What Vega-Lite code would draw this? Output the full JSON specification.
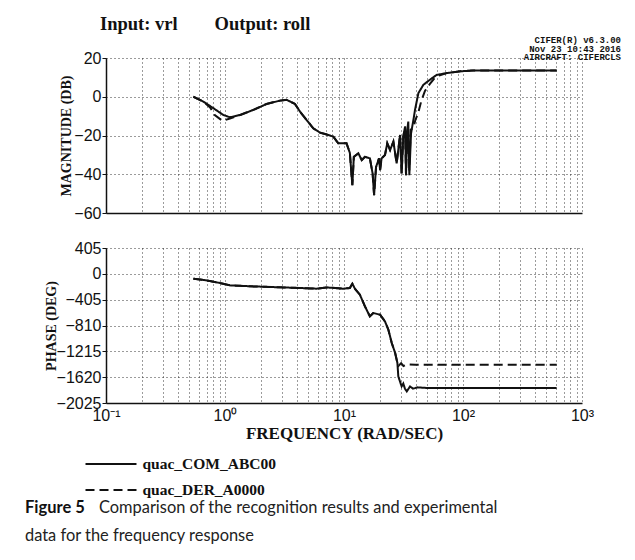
{
  "$schema": "https://vega.github.io/schema/vega-lite/v6.json",
  "background": "white",
  "padding": {"left": 25, "top": 14, "right": 5, "bottom": 5},
  "title": {
    "text": "Input: vrl\u00a0\u00a0\u00a0\u00a0\u00a0\u00a0\u00a0\u00a0Output: roll",
    "anchor": "start",
    "frame": "group",
    "font": "Liberation Serif",
    "fontWeight": "bold",
    "fontSize": 18.5,
    "color": "#111",
    "dx": -6,
    "offset": 3
  },
  "datasets": {
    "mag": [
      {"f": 0.542, "v": 0, "s": "quac_COM_ABC00"},
      {"f": 0.658, "v": -2.5, "s": "quac_COM_ABC00"},
      {"f": 0.798, "v": -5.9, "s": "quac_COM_ABC00"},
      {"f": 0.968, "v": -9.4, "s": "quac_COM_ABC00"},
      {"f": 1.10, "v": -10.6, "s": "quac_COM_ABC00"},
      {"f": 1.34, "v": -9.4, "s": "quac_COM_ABC00"},
      {"f": 1.73, "v": -6.8, "s": "quac_COM_ABC00"},
      {"f": 2.24, "v": -3.7, "s": "quac_COM_ABC00"},
      {"f": 2.90, "v": -2.0, "s": "quac_COM_ABC00"},
      {"f": 3.30, "v": -1.6, "s": "quac_COM_ABC00"},
      {"f": 3.87, "v": -3.7, "s": "quac_COM_ABC00"},
      {"f": 4.27, "v": -7.7, "s": "quac_COM_ABC00"},
      {"f": 4.85, "v": -12, "s": "quac_COM_ABC00"},
      {"f": 5.52, "v": -16.3, "s": "quac_COM_ABC00"},
      {"f": 6.28, "v": -18.5, "s": "quac_COM_ABC00"},
      {"f": 7.38, "v": -19.7, "s": "quac_COM_ABC00"},
      {"f": 8.13, "v": -20.6, "s": "quac_COM_ABC00"},
      {"f": 8.95, "v": -24, "s": "quac_COM_ABC00"},
      {"f": 10.5, "v": -24, "s": "quac_COM_ABC00"},
      {"f": 11.2, "v": -29, "s": "quac_COM_ABC00"},
      {"f": 11.75, "v": -45.6, "s": "quac_COM_ABC00"},
      {"f": 12.1, "v": -31, "s": "quac_COM_ABC00"},
      {"f": 13.2, "v": -29.2, "s": "quac_COM_ABC00"},
      {"f": 14.1, "v": -32.7, "s": "quac_COM_ABC00"},
      {"f": 15.0, "v": -31, "s": "quac_COM_ABC00"},
      {"f": 16.5, "v": -31.8, "s": "quac_COM_ABC00"},
      {"f": 17.4, "v": -39.6, "s": "quac_COM_ABC00"},
      {"f": 17.9, "v": -50.8, "s": "quac_COM_ABC00"},
      {"f": 18.6, "v": -36.2, "s": "quac_COM_ABC00"},
      {"f": 19.7, "v": -31.8, "s": "quac_COM_ABC00"},
      {"f": 20.1, "v": -37.9, "s": "quac_COM_ABC00"},
      {"f": 20.7, "v": -31.8, "s": "quac_COM_ABC00"},
      {"f": 22.1, "v": -30.1, "s": "quac_COM_ABC00"},
      {"f": 23.1, "v": -24, "s": "quac_COM_ABC00"},
      {"f": 24.4, "v": -27.5, "s": "quac_COM_ABC00"},
      {"f": 26.0, "v": -23.2, "s": "quac_COM_ABC00"},
      {"f": 26.9, "v": -29.2, "s": "quac_COM_ABC00"},
      {"f": 27.7, "v": -34.4, "s": "quac_COM_ABC00"},
      {"f": 29.6, "v": -19.7, "s": "quac_COM_ABC00"},
      {"f": 30.5, "v": -39.6, "s": "quac_COM_ABC00"},
      {"f": 31.5, "v": -20.6, "s": "quac_COM_ABC00"},
      {"f": 32.6, "v": -15.4, "s": "quac_COM_ABC00"},
      {"f": 33.2, "v": -40.5, "s": "quac_COM_ABC00"},
      {"f": 34.0, "v": -17.2, "s": "quac_COM_ABC00"},
      {"f": 34.7, "v": -12.8, "s": "quac_COM_ABC00"},
      {"f": 35.4, "v": -40.5, "s": "quac_COM_ABC00"},
      {"f": 36.6, "v": -18.9, "s": "quac_COM_ABC00"},
      {"f": 38.3, "v": -12, "s": "quac_COM_ABC00"},
      {"f": 39.5, "v": -6.8, "s": "quac_COM_ABC00"},
      {"f": 42.2, "v": 1.9, "s": "quac_COM_ABC00"},
      {"f": 46.5, "v": 6.2, "s": "quac_COM_ABC00"},
      {"f": 52.8, "v": 8.8, "s": "quac_COM_ABC00"},
      {"f": 60.1, "v": 11.3, "s": "quac_COM_ABC00"},
      {"f": 72.9, "v": 12.2, "s": "quac_COM_ABC00"},
      {"f": 94.4, "v": 13.1, "s": "quac_COM_ABC00"},
      {"f": 122, "v": 13.6, "s": "quac_COM_ABC00"},
      {"f": 251, "v": 13.6, "s": "quac_COM_ABC00"},
      {"f": 612, "v": 13.6, "s": "quac_COM_ABC00"},
      {"f": 0.542, "v": 0, "s": "quac_DER_A0000"},
      {"f": 0.658, "v": -2.5, "s": "quac_DER_A0000"},
      {"f": 0.75, "v": -5.5, "s": "quac_DER_A0000"},
      {"f": 0.82, "v": -9.4, "s": "quac_DER_A0000"},
      {"f": 0.955, "v": -12.5, "s": "quac_DER_A0000"},
      {"f": 1.10, "v": -11.2, "s": "quac_DER_A0000"},
      {"f": 1.34, "v": -9.4, "s": "quac_DER_A0000"},
      {"f": 1.73, "v": -6.8, "s": "quac_DER_A0000"},
      {"f": 2.24, "v": -3.7, "s": "quac_DER_A0000"},
      {"f": 2.90, "v": -2.0, "s": "quac_DER_A0000"},
      {"f": 3.30, "v": -1.6, "s": "quac_DER_A0000"},
      {"f": 3.87, "v": -3.7, "s": "quac_DER_A0000"},
      {"f": 4.27, "v": -7.7, "s": "quac_DER_A0000"},
      {"f": 4.85, "v": -12, "s": "quac_DER_A0000"},
      {"f": 5.52, "v": -16.3, "s": "quac_DER_A0000"},
      {"f": 6.28, "v": -18.5, "s": "quac_DER_A0000"},
      {"f": 7.38, "v": -19.7, "s": "quac_DER_A0000"},
      {"f": 8.13, "v": -20.6, "s": "quac_DER_A0000"},
      {"f": 8.95, "v": -24, "s": "quac_DER_A0000"},
      {"f": 10.5, "v": -24, "s": "quac_DER_A0000"},
      {"f": 11.2, "v": -29, "s": "quac_DER_A0000"},
      {"f": 11.75, "v": -45.6, "s": "quac_DER_A0000"},
      {"f": 12.1, "v": -31, "s": "quac_DER_A0000"},
      {"f": 13.2, "v": -29.2, "s": "quac_DER_A0000"},
      {"f": 14.1, "v": -32.7, "s": "quac_DER_A0000"},
      {"f": 15.0, "v": -31, "s": "quac_DER_A0000"},
      {"f": 16.5, "v": -31.8, "s": "quac_DER_A0000"},
      {"f": 17.4, "v": -39.6, "s": "quac_DER_A0000"},
      {"f": 17.9, "v": -50.8, "s": "quac_DER_A0000"},
      {"f": 18.6, "v": -36.2, "s": "quac_DER_A0000"},
      {"f": 19.7, "v": -31.8, "s": "quac_DER_A0000"},
      {"f": 20.1, "v": -37.9, "s": "quac_DER_A0000"},
      {"f": 20.7, "v": -31.8, "s": "quac_DER_A0000"},
      {"f": 22.1, "v": -30.1, "s": "quac_DER_A0000"},
      {"f": 23.1, "v": -24, "s": "quac_DER_A0000"},
      {"f": 24.4, "v": -27.5, "s": "quac_DER_A0000"},
      {"f": 26.0, "v": -23.2, "s": "quac_DER_A0000"},
      {"f": 26.9, "v": -29.2, "s": "quac_DER_A0000"},
      {"f": 27.7, "v": -34.4, "s": "quac_DER_A0000"},
      {"f": 29.6, "v": -19.7, "s": "quac_DER_A0000"},
      {"f": 30.5, "v": -39.6, "s": "quac_DER_A0000"},
      {"f": 31.5, "v": -20.6, "s": "quac_DER_A0000"},
      {"f": 32.6, "v": -15.4, "s": "quac_DER_A0000"},
      {"f": 33.2, "v": -40.5, "s": "quac_DER_A0000"},
      {"f": 34.0, "v": -17.2, "s": "quac_DER_A0000"},
      {"f": 34.7, "v": -20, "s": "quac_DER_A0000"},
      {"f": 35.4, "v": -38, "s": "quac_DER_A0000"},
      {"f": 36.3, "v": -17, "s": "quac_DER_A0000"},
      {"f": 38.3, "v": -16, "s": "quac_DER_A0000"},
      {"f": 39.8, "v": -12, "s": "quac_DER_A0000"},
      {"f": 42.2, "v": -8, "s": "quac_DER_A0000"},
      {"f": 44.7, "v": -2, "s": "quac_DER_A0000"},
      {"f": 47.9, "v": 3, "s": "quac_DER_A0000"},
      {"f": 52.5, "v": 6.5, "s": "quac_DER_A0000"},
      {"f": 57.5, "v": 9.5, "s": "quac_DER_A0000"},
      {"f": 63, "v": 11, "s": "quac_DER_A0000"},
      {"f": 72.9, "v": 12.2, "s": "quac_DER_A0000"},
      {"f": 94.4, "v": 13.1, "s": "quac_DER_A0000"},
      {"f": 122, "v": 13.6, "s": "quac_DER_A0000"},
      {"f": 251, "v": 13.6, "s": "quac_DER_A0000"},
      {"f": 612, "v": 13.6, "s": "quac_DER_A0000"}
    ],
    "phase": [
      {"f": 0.542, "v": -76, "s": "quac_COM_ABC00"},
      {"f": 0.70, "v": -103, "s": "quac_COM_ABC00"},
      {"f": 0.908, "v": -144, "s": "quac_COM_ABC00"},
      {"f": 1.10, "v": -181, "s": "quac_COM_ABC00"},
      {"f": 1.73, "v": -197, "s": "quac_COM_ABC00"},
      {"f": 3.09, "v": -213, "s": "quac_COM_ABC00"},
      {"f": 4.27, "v": -222, "s": "quac_COM_ABC00"},
      {"f": 5.89, "v": -233, "s": "quac_COM_ABC00"},
      {"f": 7.16, "v": -213, "s": "quac_COM_ABC00"},
      {"f": 9.86, "v": -233, "s": "quac_COM_ABC00"},
      {"f": 11.2, "v": -222, "s": "quac_COM_ABC00"},
      {"f": 11.75, "v": -155, "s": "quac_COM_ABC00"},
      {"f": 12.4, "v": -238, "s": "quac_COM_ABC00"},
      {"f": 13.6, "v": -327, "s": "quac_COM_ABC00"},
      {"f": 15.0, "v": -511, "s": "quac_COM_ABC00"},
      {"f": 16.5, "v": -667, "s": "quac_COM_ABC00"},
      {"f": 17.6, "v": -614, "s": "quac_COM_ABC00"},
      {"f": 20.1, "v": -641, "s": "quac_COM_ABC00"},
      {"f": 22.1, "v": -746, "s": "quac_COM_ABC00"},
      {"f": 23.6, "v": -876, "s": "quac_COM_ABC00"},
      {"f": 25.2, "v": -1085, "s": "quac_COM_ABC00"},
      {"f": 26.9, "v": -1241, "s": "quac_COM_ABC00"},
      {"f": 28.1, "v": -1398, "s": "quac_COM_ABC00"},
      {"f": 28.6, "v": -1608, "s": "quac_COM_ABC00"},
      {"f": 30.5, "v": -1765, "s": "quac_COM_ABC00"},
      {"f": 31.5, "v": -1720, "s": "quac_COM_ABC00"},
      {"f": 32.5, "v": -1800, "s": "quac_COM_ABC00"},
      {"f": 33.7, "v": -1843, "s": "quac_COM_ABC00"},
      {"f": 35.9, "v": -1765, "s": "quac_COM_ABC00"},
      {"f": 38.0, "v": -1800, "s": "quac_COM_ABC00"},
      {"f": 41.7, "v": -1780, "s": "quac_COM_ABC00"},
      {"f": 50.1, "v": -1790, "s": "quac_COM_ABC00"},
      {"f": 612, "v": -1790, "s": "quac_COM_ABC00"},
      {"f": 0.542, "v": -76, "s": "quac_DER_A0000"},
      {"f": 0.70, "v": -103, "s": "quac_DER_A0000"},
      {"f": 0.908, "v": -144, "s": "quac_DER_A0000"},
      {"f": 1.10, "v": -181, "s": "quac_DER_A0000"},
      {"f": 1.73, "v": -197, "s": "quac_DER_A0000"},
      {"f": 3.09, "v": -213, "s": "quac_DER_A0000"},
      {"f": 4.27, "v": -222, "s": "quac_DER_A0000"},
      {"f": 5.89, "v": -233, "s": "quac_DER_A0000"},
      {"f": 7.16, "v": -213, "s": "quac_DER_A0000"},
      {"f": 9.86, "v": -233, "s": "quac_DER_A0000"},
      {"f": 11.2, "v": -222, "s": "quac_DER_A0000"},
      {"f": 11.75, "v": -155, "s": "quac_DER_A0000"},
      {"f": 12.4, "v": -238, "s": "quac_DER_A0000"},
      {"f": 13.6, "v": -327, "s": "quac_DER_A0000"},
      {"f": 15.0, "v": -511, "s": "quac_DER_A0000"},
      {"f": 16.5, "v": -667, "s": "quac_DER_A0000"},
      {"f": 17.6, "v": -614, "s": "quac_DER_A0000"},
      {"f": 20.1, "v": -641, "s": "quac_DER_A0000"},
      {"f": 22.1, "v": -746, "s": "quac_DER_A0000"},
      {"f": 23.6, "v": -876, "s": "quac_DER_A0000"},
      {"f": 25.2, "v": -1085, "s": "quac_DER_A0000"},
      {"f": 26.9, "v": -1241, "s": "quac_DER_A0000"},
      {"f": 28.1, "v": -1398, "s": "quac_DER_A0000"},
      {"f": 28.8, "v": -1440, "s": "quac_DER_A0000"},
      {"f": 30.2, "v": -1400, "s": "quac_DER_A0000"},
      {"f": 31.6, "v": -1445, "s": "quac_DER_A0000"},
      {"f": 33.9, "v": -1420, "s": "quac_DER_A0000"},
      {"f": 39.8, "v": -1425, "s": "quac_DER_A0000"},
      {"f": 612, "v": -1425, "s": "quac_DER_A0000"}
    ],
    "caption": [
      {"line": 1, "part": "b", "text": "Figure 5"},
      {"line": 1, "part": "r", "text": "Comparison of the recognition results and experimental"},
      {"line": 2, "part": "r", "text": "data for the frequency response"}
    ]
  },
  "bounds": "flush",
  "spacing": 35,
  "resolve": {"scale": {"x": "independent", "y": "independent"}},
  "vconcat": [
    {
      "width": 476,
      "height": 155,
      "title": {
        "text": ["CIFER(R) v6.3.00", "Nov 23 10:43 2016", "AIRCRAFT: CIFERCLS"],
        "anchor": "end",
        "frame": "group",
        "font": "Liberation Mono",
        "fontWeight": "bold",
        "fontSize": 9,
        "lineHeight": 8.5,
        "color": "#111",
        "dx": 39,
        "offset": -12
      },
      "data": {"name": "mag"},
      "mark": {"type": "line", "strokeWidth": 2, "color": "#111"},
      "encoding": {
        "x": {
          "field": "f", "type": "quantitative",
          "scale": {"type": "log", "domain": [0.1, 1000], "nice": false},
          "axis": {
            "values": [0.1,0.2,0.3,0.4,0.5,0.6,0.7,0.8,0.9,1,2,3,4,5,6,7,8,9,10,20,30,40,50,60,70,80,90,100,200,300,400,500,600,700,800,900,1000],
            "labels": false, "ticks": false, "title": null
          }
        },
        "y": {
          "field": "v", "type": "quantitative",
          "scale": {"domain": [-60, 20], "nice": false},
          "axis": {"values": [20, 0, -20, -40, -60], "format": "d", "title": "MAGNITUDE (DB)", "titlePadding": 0}
        },
        "strokeDash": {
          "field": "s", "type": "nominal",
          "scale": {"domain": ["quac_COM_ABC00", "quac_DER_A0000"], "range": [[1, 0], [9, 5]]},
          "legend": {
            "orient": "none", "legendX": -9, "legendY": 392,
            "direction": "vertical", "title": null,
            "symbolType": "M-2,0H2", "symbolSize": 650, "symbolStrokeWidth": 2,
            "symbolStrokeColor": "#111", "symbolFillColor": "transparent",
            "labelFont": "Liberation Serif", "labelFontWeight": "bold", "labelFontSize": 15.5,
            "labelColor": "#111", "rowPadding": 3, "labelOffset": 17.5
          }
        }
      }
    },
    {
      "width": 476,
      "height": 155,
      "data": {"name": "phase"},
      "mark": {"type": "line", "strokeWidth": 2, "color": "#111"},
      "encoding": {
        "x": {
          "field": "f", "type": "quantitative",
          "scale": {"type": "log", "domain": [0.1, 1000], "nice": false},
          "axis": {
            "values": [0.1,0.2,0.3,0.4,0.5,0.6,0.7,0.8,0.9,1,2,3,4,5,6,7,8,9,10,20,30,40,50,60,70,80,90,100,200,300,400,500,600,700,800,900,1000],
            "labelExpr": "datum.value == 0.1 ? '10⁻¹' : datum.value == 1 ? '10⁰' : datum.value == 10 ? '10¹' : datum.value == 100 ? '10²' : datum.value == 1000 ? '10³' : ''",
            "labelOverlap": false, "labelFlush": false, "ticks": false, "labelPadding": 4,
            "title": "FREQUENCY (RAD/SEC)", "titleFontSize": 17, "titlePadding": 2
          }
        },
        "y": {
          "field": "v", "type": "quantitative",
          "scale": {"domain": [-2025, 405], "nice": false},
          "axis": {"values": [405, 0, -405, -810, -1215, -1620, -2025], "format": "d", "title": "PHASE (DEG)", "titlePadding": -2}
        },
        "strokeDash": {"field": "s", "type": "nominal"}
      }
    },
    {
      "width": 476,
      "height": 110,
      "data": {"name": "caption"},
      "encoding": {
        "x": {"datum": 0, "type": "quantitative", "scale": {"domain": [0, 1]}, "axis": null},
        "y": {"field": "line", "type": "quantitative", "scale": {"domain": [-1.5, 2.43], "reverse": true, "nice": false, "zero": false}, "axis": null},
        "text": {"field": "text"}
      },
      "layer": [
        {
          "transform": [{"filter": "datum.part == 'b'"}],
          "mark": {"type": "text", "align": "left", "baseline": "middle", "font": "Lato", "fontWeight": "bold", "fontSize": 16.5, "color": "#111", "dx": -81}
        },
        {
          "transform": [{"filter": "datum.line == 1 && datum.part == 'r'"}],
          "mark": {"type": "text", "align": "left", "baseline": "middle", "font": "Lato", "fontSize": 16.4, "color": "#222", "dx": -7}
        },
        {
          "transform": [{"filter": "datum.line == 2"}],
          "mark": {"type": "text", "align": "left", "baseline": "middle", "font": "Lato", "fontSize": 16.4, "color": "#222", "dx": -81}
        }
      ]
    }
  ],
  "config": {
    "view": {"stroke": null},
    "axis": {
      "grid": true,
      "gridDash": [1, 3],
      "gridColor": "#222",
      "gridWidth": 1,
      "gridOpacity": 0.9,
      "domainColor": "#111",
      "domainWidth": 1.5,
      "tickColor": "#111",
      "tickSize": 4,
      "labelFont": "Liberation Sans",
      "labelFontSize": 16,
      "labelColor": "#111",
      "labelPadding": 1,
      "titleFont": "Liberation Serif",
      "titleFontWeight": "bold",
      "titleFontSize": 14,
      "titleColor": "#111"
    }
  }
}
